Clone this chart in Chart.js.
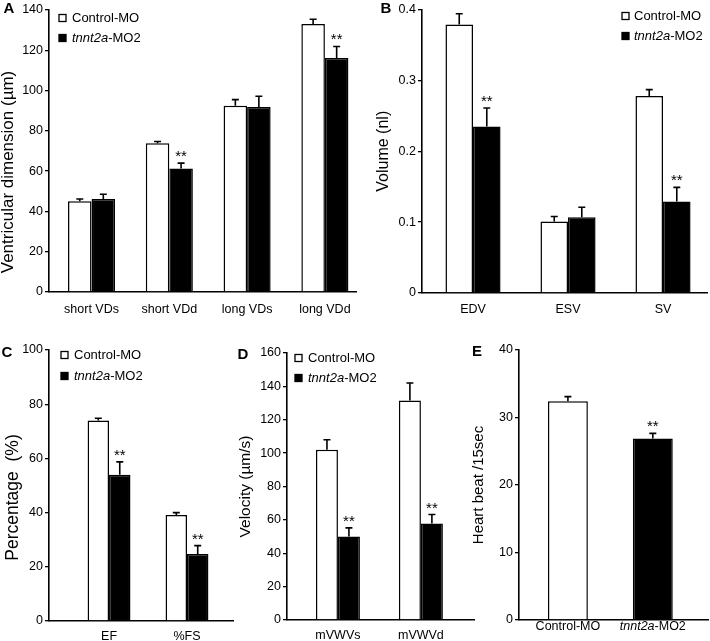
<!DOCTYPE html>
<html>
<head>
<meta charset="utf-8">
<script src="https://cdn.jsdelivr.net/npm/chart.js@4/dist/chart.umd.min.js"></script>
<style>
  html, body { margin: 0; padding: 0; background: #fff; }
  #wrap { position: relative; width: 710px; height: 641px; }
  canvas { position: absolute; }
</style>
</head>
<body>
<div id="wrap">
  <canvas id="cA" width="360" height="320" style="left:0;top:0"></canvas>
  <canvas id="cB" width="350" height="320" style="left:360px;top:0"></canvas>
  <canvas id="cC" width="240" height="311" style="left:0;top:330px"></canvas>
  <canvas id="cD" width="240" height="311" style="left:235px;top:330px"></canvas>
  <canvas id="cE" width="240" height="311" style="left:470px;top:330px"></canvas>
</div>
<script>
const FAMILY = "'Liberation Sans', Arial, sans-serif";
Chart.defaults.font.family = FAMILY;
Chart.defaults.color = '#000';

const groups = ['Control-MO', 'tnnt2a-MO2'];
const italicPrefix = 'tnnt2a';

// A - ventricular dimension
const catsA = ['short VDs', 'short VDd', 'long VDs', 'long VDd'];
const ctrlA = [45, 73.8, 92.5, 133];
const ctrlErrA = [1.2, 0.9, 3, 2.4];
const moA = [46.2, 61.3, 91.9, 116.2];
const moErrA = [2.3, 2.7, 5.3, 5.7];
const sigA = ['', '**', '', '**'];
const ticksA = [0, 20, 40, 60, 80, 100, 120, 140];

// B - volume
const catsB = ['EDV', 'ESV', 'SV'];
const ctrlB = [0.379, 0.101, 0.278];
const ctrlErrB = [0.015, 0.007, 0.009];
const moB = [0.235, 0.107, 0.129];
const moErrB = [0.026, 0.014, 0.02];
const sigB = ['**', '', '**'];
const ticksB = [0, 0.1, 0.2, 0.3, 0.4];

// C - percentage
const catsC = ['EF', '%FS'];
const ctrlC = [74, 39.1];
const ctrlErrC = [0.8, 0.9];
const moC = [54, 24.7];
const moErrC = [4.7, 3.1];
const sigC = ['**', '**'];
const ticksC = [0, 20, 40, 60, 80, 100];

// D - velocity
const catsD = ['mVWVs', 'mVWVd'];
const ctrlD = [102, 131.6];
const ctrlErrD = [6, 10.4];
const moD = [50, 57.8];
const moErrD = [5.2, 5.4];
const sigD = ['**', '**'];
const ticksD = [0, 20, 40, 60, 80, 100, 120, 140, 160];

// E - heart beat
const catsE = groups;
const beatE = [32.4, 26.9];
const beatErrE = [0.7, 0.75];
const sigE = ['', '**'];
const ticksE = [0, 10, 20, 30, 40];

// draws a name with the gene part in italics
function drawName(ctx, name, x, y, size, align) {
  const pre = name.startsWith(italicPrefix) ? italicPrefix : '';
  const rest = name.slice(pre.length);
  ctx.font = 'italic ' + size + 'px ' + FAMILY;
  const w1 = ctx.measureText(pre).width;
  ctx.font = size + 'px ' + FAMILY;
  const w2 = ctx.measureText(rest).width;
  let sx = align === 'center' ? x - (w1 + w2) / 2 : x;
  ctx.textAlign = 'left';
  ctx.textBaseline = 'middle';
  if (pre) {
    ctx.font = 'italic ' + size + 'px ' + FAMILY;
    ctx.fillText(pre, sx, y);
  }
  ctx.font = size + 'px ' + FAMILY;
  ctx.fillText(rest, sx + w1, y);
}

function makeExtras(p) {
  return {
    id: 'extras',
    afterDatasetsDraw(chart) {
      const ctx = chart.ctx;
      const ya = chart.scales.y;
      ctx.save();
      chart.data.datasets.forEach((ds, di) => {
        const meta = chart.getDatasetMeta(di);
        meta.data.forEach((bar, i) => {
          const v = ds.data[i].y;
          const top = ya.getPixelForValue(v + ds.errors[i]);
          ctx.strokeStyle = '#000';
          ctx.lineWidth = 1.6;
          ctx.beginPath();
          ctx.moveTo(bar.x, ya.getPixelForValue(v));
          ctx.lineTo(bar.x, top);
          ctx.moveTo(bar.x - 3.5, top);
          ctx.lineTo(bar.x + 3.5, top);
          ctx.stroke();
          if (ds.stars[i]) {
            ctx.fillStyle = '#000';
            ctx.font = '15px ' + FAMILY;
            ctx.textAlign = 'center';
            ctx.textBaseline = 'alphabetic';
            ctx.fillText(ds.stars[i], bar.x, top - 2);
          }
        });
      });
      ctx.restore();
    },
    afterDraw(chart) {
      const ctx = chart.ctx;
      const area = chart.chartArea;
      ctx.save();
      ctx.fillStyle = '#000';
      // panel letter
      ctx.font = 'bold 15px ' + FAMILY;
      ctx.textAlign = 'center';
      ctx.textBaseline = 'middle';
      ctx.fillText(p.letter, p.letterPos[0], p.letterPos[1]);
      // y axis title
      ctx.save();
      ctx.translate(p.titleX, (area.top + area.bottom) / 2 + p.titleShift);
      ctx.rotate(-Math.PI / 2);
      ctx.font = p.titleSize + 'px ' + FAMILY;
      ctx.fillText(p.title, 0, 0);
      ctx.restore();
      // legend
      if (p.legend) {
        const L = p.legend;
        groups.forEach((g, i) => {
          const y = L.rows[i];
          ctx.fillStyle = i === 0 ? '#fff' : '#000';
          ctx.fillRect(L.x, y - 3.5, 7, 7);
          ctx.strokeStyle = '#000';
          ctx.lineWidth = 1.3;
          ctx.strokeRect(L.x, y - 3.5, 7, 7);
          ctx.fillStyle = '#000';
          drawName(ctx, g, L.textX, y, 13, 'left');
        });
      }
      // x labels with italic part
      if (p.customX) {
        const xa = chart.scales.x;
        p.cats.forEach((c, i) => {
          drawName(ctx, c, xa.getPixelForValue(i), area.bottom + 7, 12.5, 'center');
        });
      }
      ctx.restore();
    }
  };
}

function buildPanel(id, p) {
  new Chart(document.getElementById(id), {
    type: 'bar',
    data: {
      datasets: p.series.map(s => ({
        label: s.name,
        data: s.values.map((v, i) => ({ x: i, y: v })),
        errors: s.errs,
        stars: s.stars,
        backgroundColor: s.fill,
        borderColor: '#000',
        borderWidth: 1.5,
        categoryPercentage: p.catPct,
        barPercentage: 1
      }))
    },
    options: {
      responsive: false,
      animation: false,
      layout: { padding: { left: 0, top: p.top, right: p.right, bottom: 0 } },
      plugins: { legend: { display: false }, tooltip: { enabled: false } },
      scales: {
        x: {
          type: 'linear',
          offset: false,
          min: p.xMin,
          max: p.xMax,
          afterBuildTicks: s => { s.ticks = p.cats.map((c, i) => ({ value: i })); },
          afterFit: s => { s.height = p.xHeight; },
          grid: { display: false },
          border: { display: true, color: '#000', width: 1.6 },
          ticks: {
            display: !p.customX,
            autoSkip: false,
            maxRotation: 0,
            padding: p.xPad,
            font: { size: 12.5 },
            callback: v => p.cats[v]
          }
        },
        y: {
          min: p.yTicks[0],
          max: p.yTicks[p.yTicks.length - 1],
          afterBuildTicks: s => { s.ticks = p.yTicks.map(v => ({ value: v })); },
          afterFit: s => { s.width = p.yWidth; },
          grid: { display: true, drawOnChartArea: false, drawTicks: true, tickLength: 4, color: '#000', lineWidth: 1.3 },
          border: { display: true, color: '#000', width: 1.6 },
          ticks: { padding: 2, font: { size: 12.5 }, callback: v => String(v) }
        }
      }
    },
    plugins: [makeExtras(p)]
  });
}

function pairSeries(c, ce, m, me, sig) {
  return [
    { name: groups[0], values: c, errs: ce, stars: c.map(() => ''), fill: '#fff' },
    { name: groups[1], values: m, errs: me, stars: sig, fill: '#000' }
  ];
}

buildPanel('cA', {
  cats: catsA, series: pairSeries(ctrlA, ctrlErrA, moA, moErrA, sigA), yTicks: ticksA,
  xMin: -0.547, xMax: 3.40, catPct: 0.605, top: 10, right: 4, yWidth: 49, xHeight: 28, xPad: 2,
  title: 'Ventricular dimension (\u00b5m)', titleSize: 17, titleX: 8, titleShift: 21,
  letter: 'A', letterPos: [9, 9], legend: { x: 59, textX: 72, rows: [18, 38] }
});

buildPanel('cB', {
  cats: catsB, series: pairSeries(ctrlB, ctrlErrB, moB, moErrB, sigB), yTicks: ticksB,
  xMin: -0.537, xMax: 2.463, catPct: 0.58, top: 9, right: 3, yWidth: 62, xHeight: 27, xPad: 1.5,
  title: 'Volume (nl)', titleSize: 16, titleX: 24, titleShift: 0,
  letter: 'B', letterPos: [26, 9], legend: { x: 262, textX: 274, rows: [16, 36] }
});

buildPanel('cC', {
  cats: catsC, series: pairSeries(ctrlC, ctrlErrC, moC, moErrC, sigC), yTicks: ticksC,
  xMin: -0.77, xMax: 1.59, catPct: 0.55, top: 20, right: 7, yWidth: 49, xHeight: 20, xPad: 0,
  title: 'Percentage  (%)', titleSize: 17.5, titleX: 13, titleShift: 12,
  letter: 'C', letterPos: [7, 23], legend: { x: 61, textX: 74, rows: [25, 46] }
});

buildPanel('cD', {
  cats: catsD, series: pairSeries(ctrlD, ctrlErrD, moD, moErrD, sigD), yTicks: ticksD,
  xMin: -0.614, xMax: 1.64, catPct: 0.53, top: 23, right: 1, yWidth: 52, xHeight: 21, xPad: 0,
  title: 'Velocity (\u00b5m/s)', titleSize: 15.5, titleX: 11, titleShift: 0,
  letter: 'D', letterPos: [8, 25], legend: { x: 60, textX: 73, rows: [28, 48] }
});

buildPanel('cE', {
  cats: catsE,
  series: [{ name: 'Heart beat', values: beatE, errs: beatErrE, stars: sigE, fill: ['#fff', '#000'] }],
  yTicks: ticksE,
  xMin: -0.576, xMax: 1.65, catPct: 0.47, top: 20, right: 2, yWidth: 49, xHeight: 21, xPad: 0,
  title: 'Heart beat /15sec', titleSize: 15, titleX: 9, titleShift: 0,
  letter: 'E', letterPos: [7, 22], legend: null, customX: true
});
</script>
</body>
</html>
